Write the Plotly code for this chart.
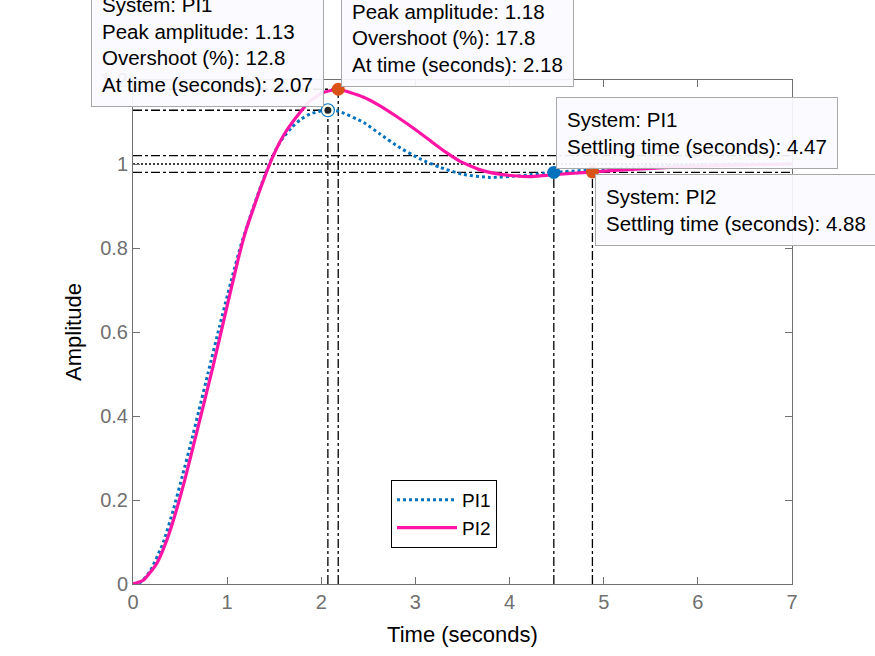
"""Resposta ao degrau PI1 x PI2 com marcadores de pico e tempo de acomodacao."""

import plotly.graph_objects as go

# Dados
T_PI1 = [0, 0.08, 0.18, 0.32, 0.43, 0.53, 0.62, 0.70, 0.80, 0.92, 1.05, 1.14, 1.24,
         1.37, 1.44, 1.53, 1.60, 1.69, 1.78, 1.88, 1.99, 2.07, 2.18, 2.45, 2.62,
         2.84, 3.05, 3.26, 3.51, 3.79, 4.11, 4.47, 5.0, 5.5, 6.0, 6.5, 7.0]
Y_PI1 = [0, 0.004, 0.030, 0.098, 0.178, 0.262, 0.340, 0.413, 0.505, 0.614, 0.728, 0.802, 0.872,
         0.955, 0.995, 1.040, 1.064, 1.088, 1.106, 1.119, 1.126, 1.128, 1.126, 1.099, 1.072,
         1.038, 1.012, 0.992, 0.975, 0.968, 0.972, 0.980, 0.988, 0.994, 0.998, 1.0, 1.0]

T_PI2 = [0, 0.11, 0.25, 0.36, 0.46, 0.55, 0.62, 0.70, 0.85, 1.00, 1.12, 1.20, 1.28,
         1.37, 1.49, 1.61, 1.74, 1.88, 2.02, 2.18, 2.45, 2.62, 2.80, 2.98, 3.16,
         3.33, 3.47, 3.69, 3.86, 4.04, 4.22, 4.39, 4.68, 4.88, 5.2, 5.6, 6.0, 6.5, 7.0]
Y_PI2 = [0, 0.009, 0.048, 0.105, 0.175, 0.248, 0.310, 0.382, 0.518, 0.662, 0.776, 0.842, 0.895,
         0.952, 1.020, 1.072, 1.113, 1.150, 1.170, 1.178, 1.159, 1.139, 1.113, 1.085, 1.055,
         1.027, 1.007, 0.986, 0.977, 0.972, 0.970, 0.973, 0.978, 0.981, 0.986, 0.991, 0.995,
         0.998, 1.0]

PEAK_TIME = [2.07, 2.18]
PEAK_AMP = [1.128, 1.178]
OVERSHOOT = [12.8, 17.8]
SETTLE_TIME = [4.47, 4.88]
SETTLE_AMP = [0.980, 0.981]
BAND = [0.98, 1.02]
FINAL = 1.0
SYSTEMS = ["PI1", "PI2"]

X_TICKS = [0, 1, 2, 3, 4, 5, 6, 7]
Y_TICKS = [0, 0.2, 0.4, 0.6, 0.8, 1, 1.2]
Y_TICK_TEXT = ["0", "0.2", "0.4", "0.6", "0.8", "1", "1.2"]

COLOR_PI1 = "#0072BD"
COLOR_PI2 = "#FF14A6"
COLOR_MARK = "#D95319"
COLOR_AXIS = "#707070"
FONT = "Liberation Sans, Arial, Helvetica, sans-serif"

# area do grafico em pixels da janela 875x656
W, H = 875, 656
L, R, T, B = 133, 792, 80, 584


def px_x(p):
    return (p - L) / (R - L)


def px_y(p):
    return (B - p) / (B - T)


fig = go.Figure()

fig.add_trace(go.Scatter(
    x=T_PI1, y=Y_PI1, name="PI1", mode="lines",
    line=dict(color=COLOR_PI1, width=3, dash="dot", shape="spline", smoothing=0.5),
))
fig.add_trace(go.Scatter(
    x=T_PI2, y=Y_PI2, name="PI2", mode="lines",
    line=dict(color=COLOR_PI2, width=3.2, shape="spline", smoothing=0.5),
))

# linhas de referencia
ref = dict(color="black", width=1.3, dash="dashdot")
shapes = []
for b in BAND:
    shapes.append(dict(type="line", xref="x", yref="y", x0=X_TICKS[0], x1=X_TICKS[-1],
                       y0=b, y1=b, line=ref, layer="below"))
shapes.append(dict(type="line", xref="x", yref="y", x0=X_TICKS[0], x1=X_TICKS[-1],
                   y0=FINAL, y1=FINAL, line=dict(color="black", width=1.3, dash="2px,2px"),
                   layer="below"))
for t, a in zip(PEAK_TIME, PEAK_AMP):
    shapes.append(dict(type="line", xref="x", yref="y", x0=0, x1=t, y0=a, y1=a,
                       line=ref, layer="below"))
    shapes.append(dict(type="line", xref="x", yref="y", x0=t, x1=t, y0=0, y1=a,
                       line=ref, layer="below"))
for t, a in zip(SETTLE_TIME, SETTLE_AMP):
    shapes.append(dict(type="line", xref="x", yref="y", x0=t, x1=t, y0=0, y1=a,
                       line=ref, layer="below"))

# marcadores
fig.add_trace(go.Scatter(
    x=[PEAK_TIME[1]], y=[PEAK_AMP[1]], mode="markers", showlegend=False,
    marker=dict(size=13, color=COLOR_MARK),
))
fig.add_trace(go.Scatter(
    x=[SETTLE_TIME[0]], y=[SETTLE_AMP[0]], mode="markers", showlegend=False,
    marker=dict(size=13, color=COLOR_PI1),
))
fig.add_trace(go.Scatter(
    x=[SETTLE_TIME[1]], y=[SETTLE_AMP[1]], mode="markers", showlegend=False,
    marker=dict(size=13, color=COLOR_MARK),
))
fig.add_trace(go.Scatter(
    x=[PEAK_TIME[0]], y=[PEAK_AMP[0]], mode="markers", showlegend=False,
    marker=dict(size=13, color="#FFFFEE", line=dict(color=COLOR_PI1, width=1.2)),
))
fig.add_trace(go.Scatter(
    x=[PEAK_TIME[0]], y=[PEAK_AMP[0]], mode="markers", showlegend=False,
    marker=dict(size=7, color="#262626"),
))

# caixas de dados (datatips)
tip = dict(xref="paper", yref="paper", showarrow=False, align="left",
           bgcolor="rgba(250,250,255,0.92)", bordercolor="#A8A8A8", borderwidth=1,
           borderpad=10, font=dict(family=FONT, size=20.5, color="black"))
annotations = []
for i, (px_left, px_bottom) in enumerate([(91, 107), (341, 87)]):
    txt = (f"System: {SYSTEMS[i]}<br>Peak amplitude: {PEAK_AMP[i]:.2f}<br>"
           f"Overshoot (%): {OVERSHOOT[i]}<br>At time (seconds): {PEAK_TIME[i]:.2f}")
    annotations.append(dict(tip, text=txt, x=px_x(px_left), y=px_y(px_bottom),
                            xanchor="left", yanchor="bottom"))
for i, (px_left, px_top) in enumerate([(556, 97), (595, 174)]):
    txt = f"System: {SYSTEMS[i]}<br>Settling time (seconds): {SETTLE_TIME[i]:.2f}"
    annotations.append(dict(tip, text=txt, x=px_x(px_left), y=px_y(px_top),
                            xanchor="left", yanchor="top"))

axis = dict(
    showline=True, linecolor=COLOR_AXIS, linewidth=1, mirror="ticks",
    ticks="inside", ticklen=7, tickcolor=COLOR_AXIS, showgrid=False, zeroline=False,
    tickfont=dict(family=FONT, size=20, color=COLOR_AXIS),
)

fig.update_layout(
    width=W, height=H,
    margin=dict(l=L, r=W - R, t=T, b=H - B),
    paper_bgcolor="white", plot_bgcolor="white",
    font=dict(family=FONT, size=20, color="black"),
    shapes=shapes, annotations=annotations,
    legend=dict(x=px_x(391), y=px_y(480), xanchor="left", yanchor="top",
                bgcolor="white", bordercolor="black", borderwidth=1,
                font=dict(family=FONT, size=19, color="black"), tracegroupgap=0,
                itemwidth=60),
    xaxis=dict(axis, range=[X_TICKS[0], X_TICKS[-1]], tickvals=X_TICKS,
               title=dict(text="Time (seconds)", font=dict(family=FONT, size=22, color="black"),
                          standoff=14)),
    yaxis=dict(axis, range=[Y_TICKS[0], Y_TICKS[-1]], tickvals=Y_TICKS, ticktext=Y_TICK_TEXT,
               title=dict(text="Amplitude", font=dict(family=FONT, size=22, color="black"),
                          standoff=12)),
)

# tira a margem padrao do body para a figura ocupar a janela inteira
fig.write_html("out.html", config={"displayModeBar": False},
               post_script="document.body.style.margin = '0';")
